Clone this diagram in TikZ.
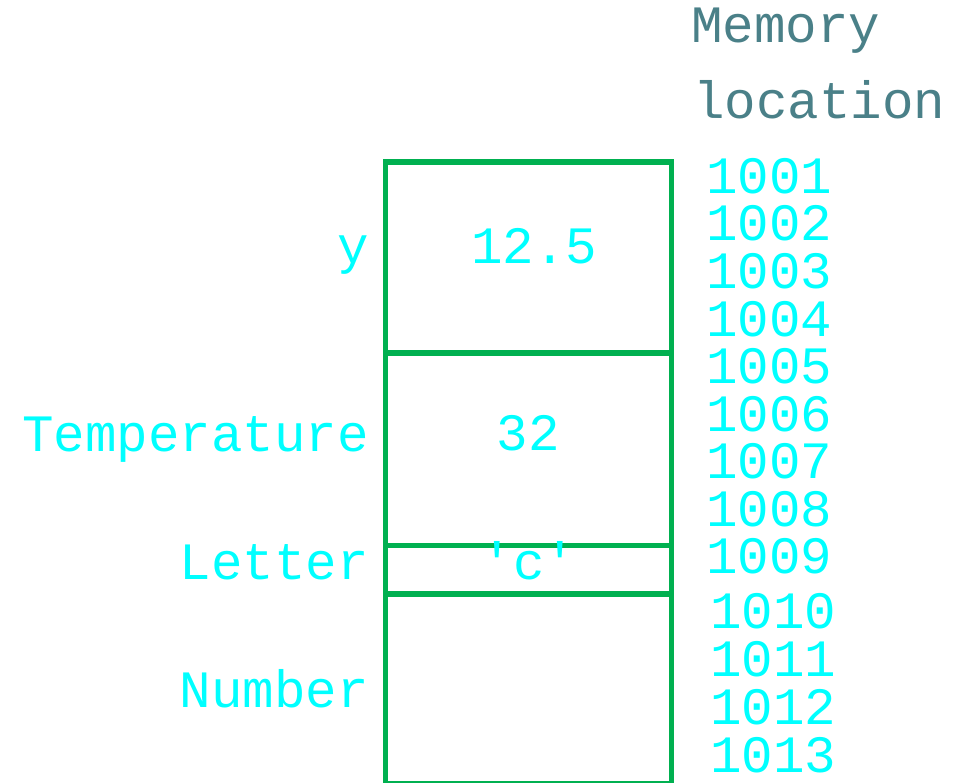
\documentclass[tikz,border=0pt]{standalone}
\usepackage{fontspec}
\setmonofont{Liberation Mono}
\definecolor{cellgreen}{HTML}{00B050}
\definecolor{valcyan}{HTML}{00FFFF}
\definecolor{headteal}{HTML}{4A8088}
\begin{document}
\begin{tikzpicture}[x=1pt,y=-1pt,
  txt/.style={inner sep=0pt,font=\ttfamily\fontsize{52.5}{60}\selectfont},
  val/.style={txt,text=valcyan,anchor=base},
  varname/.style={txt,text=valcyan,anchor=base east},
  addr/.style={txt,text=valcyan,anchor=base west},
  head/.style={txt,text=headteal,anchor=base west},
  cell/.style={draw=cellgreen,line width=5.5pt}]
\useasboundingbox (0,0) rectangle (965,783);

% memory cells
\draw[cell] (385.5,162) rectangle (671.5,353);
\draw[cell] (385.5,353) rectangle (671.5,545.5);
\draw[cell] (385.5,545.5) rectangle (671.5,594);
\draw[cell] (385.5,594) rectangle (671.5,784);

% stored values
\node[val] (v1) at (534.5,264) {12.5};
\node[val] (v2) at (528,450) {32};
\node[val] (v3) at (529,579) {'c'};

% variable names
\node[varname] (n1) at (369,264) {y};
\node[varname] (n2) at (369,451) {Temperature};
\node[varname] (n3) at (369,579) {Letter};
\node[varname] (n4) at (369,707) {Number};

% header
\node[head] (h1) at (691,43) {Memory};
\node[head] (h2) at (693,119) {location};

% addresses
\foreach \a [count=\i from 0] in {1001,1002,1003,1004,1005,1006,1007,1008,1009}
  \node[addr] (a\a) at (706,193.5+47.5*\i) {\a};
\foreach \a [count=\i from 0] in {1010,1011,1012,1013}
  \node[addr] (a\a) at (710,628+48*\i) {\a};
\end{tikzpicture}
\end{document}
